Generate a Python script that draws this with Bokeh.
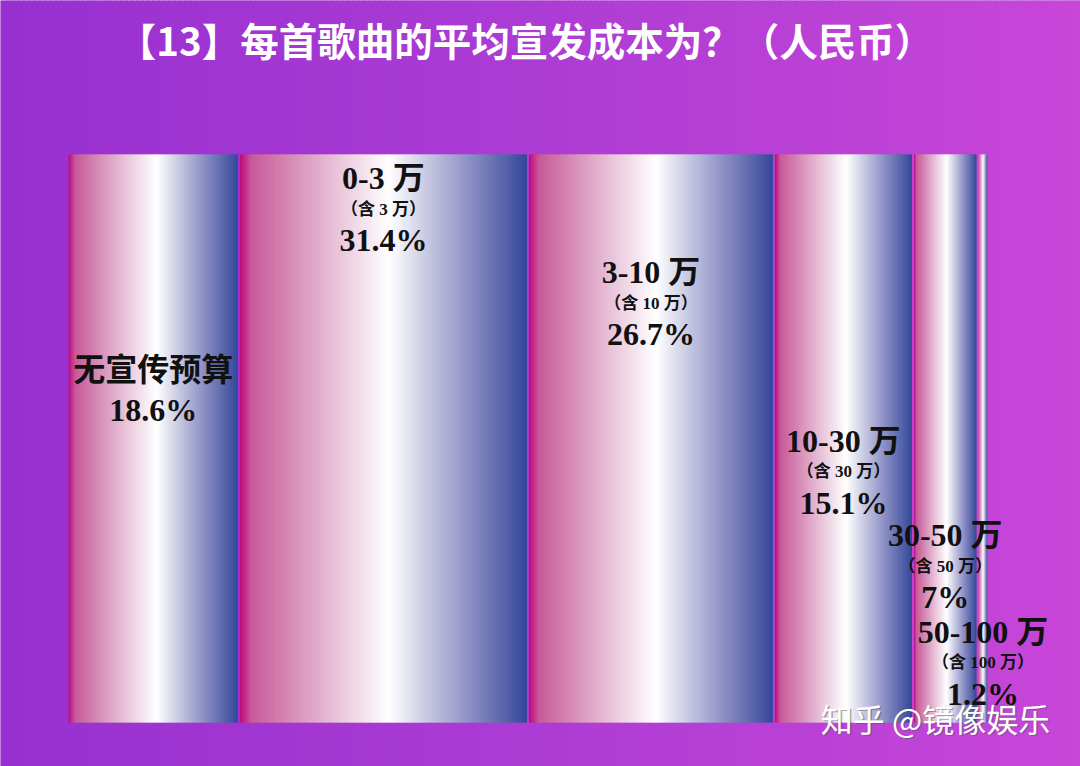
import numpy as np
from bokeh.plotting import figure
from bokeh.models import Range1d
from bokeh.core.properties import value
from bokeh.embed import file_html
from bokeh.resources import INLINE

# ---- data ----
categories = ["无宣传预算", "0-3 万", "3-10 万", "10-30 万", "30-50 万", "50-100 万"]
sublabels = ["", "（含 3 万）", "（含 10 万）", "（含 30 万）", "（含 50 万）", "（含 100 万）"]
shares = [18.6, 31.4, 26.7, 15.1, 7.0, 1.2]
share_labels = ["18.6%", "31.4%", "26.7%", "15.1%", "7%", "1.2%"]
title_text = "【13】每首歌曲的平均宣发成本为？（人民币）"
watermark = "知乎 @镜像娱乐"

# ---- layout (styles / positions) ----
W, H = 1080, 766
PX_PER_X = 9.21         # px per percent
PX_PER_Y = 5.68         # px per unit of bar height (bar height = 100)
LEFT_PX = 67            # bar area left edge, px from figure left
BOTTOM_PX = H - 722     # bar bottom, px from figure bottom
x0 = -LEFT_PX / PX_PER_X
y0 = -BOTTOM_PX / PX_PER_Y
label_top_y = [62.0, 95.8, 79.3, 49.6, 33.0, 16.0]   # height (in bar units) of first line
GAP = 0.11

p = figure(width=W, height=H, output_backend="svg", toolbar_location=None,
           x_range=Range1d(x0, x0 + W / PX_PER_X),
           y_range=Range1d(y0, y0 + H / PX_PER_Y),
           min_border=0)
p.axis.visible = False
p.grid.visible = False
p.outline_line_color = None
p.background_fill_color = "#a83ad2"
p.border_fill_color = "#a83ad2"

def lerp_stops(stops, t):
    pos = [s[0] for s in stops]
    cols = np.array([[int(s[1][i:i + 2], 16) for i in (1, 3, 5)] for s in stops], float)
    c = [np.interp(t, pos, cols[:, k]) for k in range(3)]
    return "#%02x%02x%02x" % tuple(int(round(v)) for v in c)

# background gradient
bg_stops = [(0.0, "#9730d0"), (0.5, "#ad3cd4"), (1.0, "#c846d8")]
xr0, xr1 = x0, x0 + W / PX_PER_X
yr0, yr1 = y0, y0 + H / PX_PER_Y
nbg = 200
edges = np.linspace(xr0, xr1, nbg + 1)
step = edges[1] - edges[0]
bg_cols = [lerp_stops(bg_stops, (k + 0.5) / nbg) for k in range(nbg)]
p.quad(left=edges[:-1], right=edges[1:] + step * 0.6, bottom=yr0, top=yr1,
       fill_color=bg_cols, line_color=None)

# bar gradient
bar_stops = [(0.0, "#bd0a7c"), (0.04, "#c85a9a"), (0.2, "#d994bc"), (0.36, "#ebcbde"),
             (0.52, "#ffffff"), (0.65, "#c9c9e3"), (0.8, "#8c8fc5"), (0.93, "#5462a8"),
             (1.0, "#34479a")]
cum = np.concatenate([[0], np.cumsum(shares)])
L, R, B, T, C = [], [], [], [], []
for i in range(len(shares)):
    left, right = cum[i] + GAP, cum[i + 1] - GAP
    n = max(8, int((right - left) * PX_PER_X))
    e = np.linspace(left, right, n + 1)
    w = e[1] - e[0]
    for k in range(n):
        L.append(e[k])
        R.append(min(e[k + 1] + w * 0.8, right))
        B.append(0); T.append(100)
        C.append(lerp_stops(bar_stops, (k + 0.5) / n))
p.quad(left=L, right=R, bottom=B, top=T, fill_color=C, line_color=None)

# labels
serif = value("'Liberation Serif', 'Noto Sans CJK SC', serif")
cx = [(cum[i] + cum[i + 1]) / 2 for i in range(len(shares))]
for i in range(len(shares)):
    y = label_top_y[i]
    p.text(x=[cx[i]], y=[y], text=[categories[i]], text_font=serif, text_font_size="32px",
           text_font_style="bold", text_color="#111111", text_align="center",
           text_baseline="middle")
    if sublabels[i]:
        y2 = y - 31 / PX_PER_Y
        p.text(x=[cx[i]], y=[y2], text=[sublabels[i]], text_font=serif, text_font_size="17px",
               text_font_style="bold", text_color="#111111", text_align="center",
               text_baseline="middle")
        y3 = y - 62 / PX_PER_Y
    else:
        y3 = y - 40 / PX_PER_Y
    p.text(x=[cx[i]], y=[y3], text=[share_labels[i]], text_font=serif, text_font_size="32px",
           text_font_style="bold", text_color="#111111", text_align="center",
           text_baseline="middle")

# title
p.text(x=[x0 + 525 / PX_PER_X], y=[y0 + (H - 38) / PX_PER_Y], text=[title_text],
       text_font=value("Noto Sans CJK SC"), text_font_size="38.5px", text_font_style="bold",
       text_color="white", text_align="center", text_baseline="middle")

# watermark
wx, wy = x0 + 935 / PX_PER_X, y0 + (H - 717) / PX_PER_Y
p.text(x=[wx + 0.15], y=[wy - 0.3], text=[watermark], text_font=value("Noto Sans CJK SC"),
       text_font_size="32px", text_color="#555555", text_alpha=0.5,
       text_align="center", text_baseline="middle")
p.text(x=[wx], y=[wy], text=[watermark], text_font=value("Noto Sans CJK SC"),
       text_font_size="32px", text_color="white",
       text_align="center", text_baseline="middle")

open("out.html", "w").write(file_html(p, INLINE))
